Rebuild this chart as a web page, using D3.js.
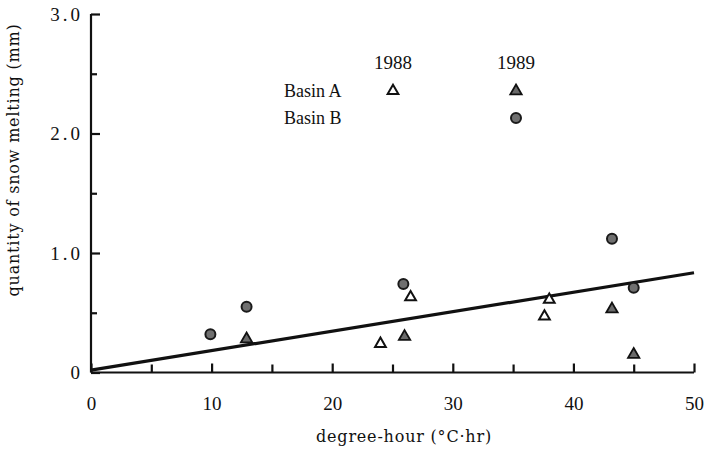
<!DOCTYPE html>
<html><head><meta charset="utf-8">
<script src="https://cdn.jsdelivr.net/npm/d3@7"></script>
<style>
html,body{margin:0;padding:0;background:#fff;}
svg{display:block;}
</style></head>
<body>
<script>
// ---- data ----
const xTicksMajor = [0, 10, 20, 30, 40, 50];
const xTicksMinor = [5, 15, 25, 35, 45];
const yTicksMajor = [0, 1, 2, 3];
const yTickLabels = ["0", "1.0", "2.0", "3.0"];
const yTicksMinor = [0.5, 1.5, 2.5];

// Basin A, 1988 (open triangles)
const basinA1988X = [24.0, 26.5, 37.6, 38.0];
const basinA1988Y = [0.24, 0.63, 0.47, 0.61];
// Basin A, 1989 (filled triangles)
const basinA1989X = [12.9, 26.0, 43.2, 45.0];
const basinA1989Y = [0.28, 0.30, 0.53, 0.15];
// Basin B, 1989 (filled circles)
const basinB1989X = [9.9, 12.9, 25.9, 43.2, 45.0];
const basinB1989Y = [0.32, 0.55, 0.74, 1.12, 0.71];
// regression line
const fitX = [0, 50];
const fitY = [0.02, 0.835];

const legendYears = ["1988", "1989"];
const legendRows = ["Basin A", "Basin B"];

// ---- layout ----
const W = 707, H = 456;
const svg = d3.select("body").append("svg").attr("width", W).attr("height", H);
const x = d3.scaleLinear().domain([0, 50]).range([91, 694]);
const y = d3.scaleLinear().domain([0, 3]).range([372.5, 14]);
const serif = "'Liberation Serif', 'Times New Roman', serif";
const ink = "#111";

// axes lines
svg.append("line").attr("x1", x(0)).attr("x2", x(0)).attr("y1", y(0)).attr("y2", y(3))
  .attr("stroke", ink).attr("stroke-width", 2.2);
svg.append("line").attr("x1", x(0)).attr("x2", x(50)).attr("y1", y(0)).attr("y2", y(0))
  .attr("stroke", ink).attr("stroke-width", 2.2);

// x axis
const xAxis = d3.axisBottom(x).tickValues(xTicksMajor).tickSize(-9).tickPadding(26)
  .tickFormat(d3.format("d"));
const gx = svg.append("g").attr("transform", `translate(0,${y(0)})`).call(xAxis);
gx.select(".domain").remove();
gx.selectAll(".tick line").attr("stroke", ink).attr("stroke-width", 2.2);
gx.selectAll(".tick text").attr("font-family", serif).attr("font-size", 19).attr("fill", ink)
  .attr("dy", "0").attr("y", 37.5);
const gxm = svg.append("g").attr("transform", `translate(0,${y(0)})`)
  .call(d3.axisBottom(x).tickValues(xTicksMinor).tickSize(-8).tickFormat(""));
gxm.select(".domain").remove();
gxm.selectAll(".tick line").attr("stroke", ink).attr("stroke-width", 2.2);

// y axis
const yAxis = d3.axisLeft(y).tickValues(yTicksMajor).tickSize(-9).tickPadding(11)
  .tickFormat((d, i) => yTickLabels[i]);
const gy = svg.append("g").attr("transform", `translate(${x(0)},0)`).call(yAxis);
gy.select(".domain").remove();
gy.selectAll(".tick line").attr("stroke", ink).attr("stroke-width", 2.2);
gy.selectAll(".tick text").attr("font-family", serif).attr("font-size", 19).attr("fill", ink)
  .attr("letter-spacing", "3px").attr("x", -8).attr("dy", "0.34em");
const gym = svg.append("g").attr("transform", `translate(${x(0)},0)`)
  .call(d3.axisLeft(y).tickValues(yTicksMinor).tickSize(-6).tickFormat(""));
gym.select(".domain").remove();
gym.selectAll(".tick line").attr("stroke", ink).attr("stroke-width", 2.2);

// axis titles
svg.append("text").attr("x", 404).attr("y", 442).attr("text-anchor", "middle")
  .attr("font-family", "'DejaVu Serif', serif").attr("font-size", 16).attr("fill", ink)
  .attr("letter-spacing", "0.8px")
  .text("degree-hour (°C·hr)");
svg.append("text").attr("transform", "translate(19,160) rotate(-90)").attr("text-anchor", "middle")
  .attr("font-family", "'DejaVu Serif', serif").attr("font-size", 16).attr("fill", ink)
  .attr("letter-spacing", "0.8px")
  .text("quantity of snow melting (mm)");

// regression line
const fit = fitX.map((d, i) => ({x: d, y: fitY[i]}));
svg.append("path").datum(fit)
  .attr("d", d3.line().x(d => x(d.x)).y(d => y(d.y)))
  .attr("stroke", ink).attr("stroke-width", 3.2).attr("fill", "none");

// markers
const tri = d3.symbol().type(d3.symbolTriangle).size(50)();
const triF = d3.symbol().type(d3.symbolTriangle).size(56)();
function openTri(g, cx, cy) {
  g.append("path").attr("d", tri).attr("transform", `translate(${cx},${cy})`)
    .attr("fill", "#fff").attr("stroke", ink).attr("stroke-width", 2);
}
function fillTri(g, cx, cy) {
  g.append("path").attr("d", triF).attr("transform", `translate(${cx},${cy})`)
    .attr("fill", "#6a6a6a").attr("stroke", ink).attr("stroke-width", 1.8);
}
function fillCirc(g, cx, cy) {
  g.append("circle").attr("cx", cx).attr("cy", cy).attr("r", 5)
    .attr("fill", "#707070").attr("stroke", "#1a1a1a").attr("stroke-width", 2);
}
const marks = svg.append("g");
basinA1988X.forEach((d, i) => openTri(marks, x(d), y(basinA1988Y[i])));
basinA1989X.forEach((d, i) => fillTri(marks, x(d), y(basinA1989Y[i])));
basinB1989X.forEach((d, i) => fillCirc(marks, x(d), y(basinB1989Y[i])));

// legend
const lg = svg.append("g");
const colX = [393, 516];
const rowY = [91, 118];
legendYears.forEach((t, i) => lg.append("text").attr("x", colX[i]).attr("y", 69)
  .attr("text-anchor", "middle").attr("font-family", serif).attr("font-size", 19)
  .attr("fill", ink).text(t));
legendRows.forEach((t, i) => lg.append("text").attr("x", 284).attr("y", rowY[i] + 6)
  .attr("font-family", serif).attr("font-size", 18).attr("fill", ink).text(t));
openTri(lg, colX[0], rowY[0]);
fillTri(lg, colX[1], rowY[0]);
fillCirc(lg, colX[1], rowY[1]);
</script>
</body></html>
